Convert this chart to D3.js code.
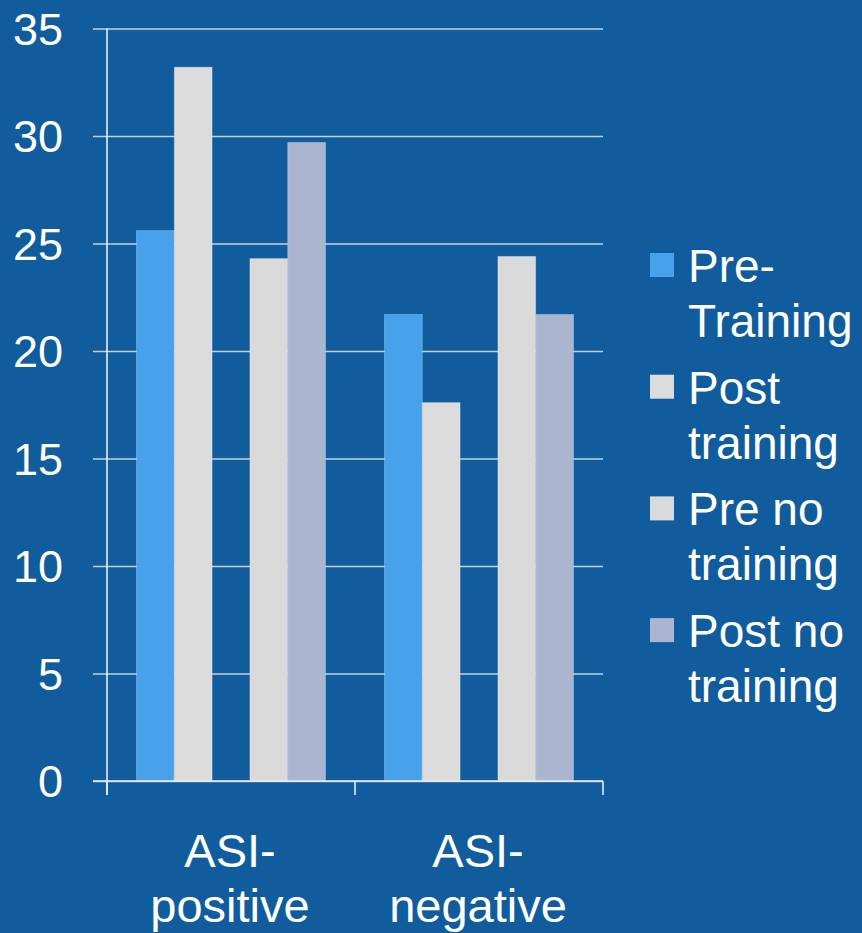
<!DOCTYPE html>
<html>
<head>
<meta charset="utf-8">
<script src="https://cdn.jsdelivr.net/npm/d3@7"></script>
<style>
  html, body { margin: 0; padding: 0; background: #105C9C; }
  svg { display: block; }
  text { font-family: "Liberation Sans", Arial, sans-serif; fill: #ffffff; }
</style>
</head>
<body>
<svg id="chart" width="862" height="933"></svg>
<script>
// ASI scores before and after training
const categories = ["ASI-positive", "ASI-negative"];
const seriesNames = ["Pre-Training", "Post training", "Pre no training", "Post no training"];
const preTraining = [25.6, 21.7];
const postTraining = [33.2, 17.6];
const preNoTraining = [24.3, 24.4];
const postNoTraining = [29.7, 21.7];
const yTicks = [0, 5, 10, 15, 20, 25, 30, 35];

const seriesValues = [preTraining, postTraining, preNoTraining, postNoTraining];
const seriesColors = ["#48A1EB", "#DCDCDC", "#DADADA", "#AAB5CF"];
// bar slots inside each category; the middle slot stays empty
const slots = ["Pre-Training", "Post training", "", "Pre no training", "Post no training"];

const W = 862, H = 933;
const plot = { left: 107, right: 603, top: 28.5, bottom: 781 };

const svg = d3.select("#chart");
svg.append("rect").attr("width", W).attr("height", H).attr("fill", "#105C9C");

const x = d3.scaleBand().domain(categories).range([plot.left, plot.right]).padding(0);
const xSlot = d3.scaleBand().domain(slots).range([0, x.bandwidth()])
  .paddingInner(0).paddingOuter(0.78);
const y = d3.scaleLinear().domain([0, 35]).range([plot.bottom, plot.top]);

// split a label onto two lines: at the last space, or after a hyphen
function wrap(label) {
  const sp = label.lastIndexOf(" ");
  if (sp > 0) return [label.slice(0, sp), label.slice(sp + 1)];
  const hy = label.indexOf("-");
  if (hy > 0) return [label.slice(0, hy + 1), label.slice(hy + 1)];
  return [label];
}

// horizontal gridlines with left tick stubs
const yAxis = d3.axisLeft(y).tickValues(yTicks)
  .tickSize(-(plot.right - plot.left + 14)).tickFormat(d3.format("d")).tickPadding(0);
const gy = svg.append("g").attr("transform", `translate(${plot.left - 14},0)`).call(yAxis);
gy.select(".domain").remove();
gy.selectAll(".tick line").attr("stroke", "#C6D0DD").attr("stroke-width", 1.6);
gy.selectAll(".tick text")
  .attr("x", -30).attr("dy", "0.35em")
  .attr("font-size", 45).attr("fill", "#ffffff")
  .style("font-family", "'Liberation Sans', Arial, sans-serif");

// bars
const rows = [];
seriesNames.forEach((s, si) => {
  categories.forEach((c, ci) => rows.push({ series: s, cat: c, value: seriesValues[si][ci], color: seriesColors[si] }));
});
svg.append("g").selectAll("rect").data(rows).join("rect")
  .attr("x", d => x(d.cat) + xSlot(d.series))
  .attr("y", d => y(d.value))
  .attr("width", xSlot.bandwidth())
  .attr("height", d => y(0) - y(d.value))
  .attr("fill", d => d.color)
  .attr("stroke", "rgba(255,255,255,0.25)")
  .attr("stroke-width", 1);

// value axis line
svg.append("line")
  .attr("x1", plot.left).attr("x2", plot.left)
  .attr("y1", y(35)).attr("y2", y(0) + 14)
  .attr("stroke", "#E8EDF3").attr("stroke-width", 1.6);

// category axis with boundary ticks
svg.append("line")
  .attr("x1", plot.left - 14).attr("x2", plot.right)
  .attr("y1", y(0)).attr("y2", y(0))
  .attr("stroke", "#E8EDF3").attr("stroke-width", 1.6);
const boundaries = categories.map(c => x(c)).concat([x(categories[categories.length - 1]) + x.bandwidth()]);
svg.append("g").selectAll("line").data(boundaries).join("line")
  .attr("x1", d => d).attr("x2", d => d)
  .attr("y1", y(0)).attr("y2", y(0) + 14)
  .attr("stroke", "#E8EDF3").attr("stroke-width", 1.6);

// category labels
const xl = svg.append("g").selectAll("text").data(categories).join("text")
  .attr("text-anchor", "middle").attr("font-size", 47)
  .attr("transform", d => `translate(${x(d) + x.bandwidth() / 2 - 1},867)`);
xl.selectAll("tspan").data(d => wrap(d)).join("tspan")
  .attr("x", 0).attr("y", (d, i) => i * 55).text(d => d);

// legend
const legend = svg.append("g").attr("transform", "translate(650,0)");
const items = legend.selectAll("g").data(seriesNames).join("g")
  .attr("transform", (d, i) => `translate(0,${282 + i * 121.7})`);
items.append("rect")
  .attr("x", 0).attr("y", -29).attr("width", 24).attr("height", 24)
  .attr("fill", (d, i) => seriesColors[i]);
const lt = items.append("text").attr("x", 38).attr("font-size", 46);
lt.selectAll("tspan").data(d => wrap(d)).join("tspan")
  .attr("x", 38).attr("y", (d, i) => i * 55).text(d => d);
</script>
</body>
</html>
